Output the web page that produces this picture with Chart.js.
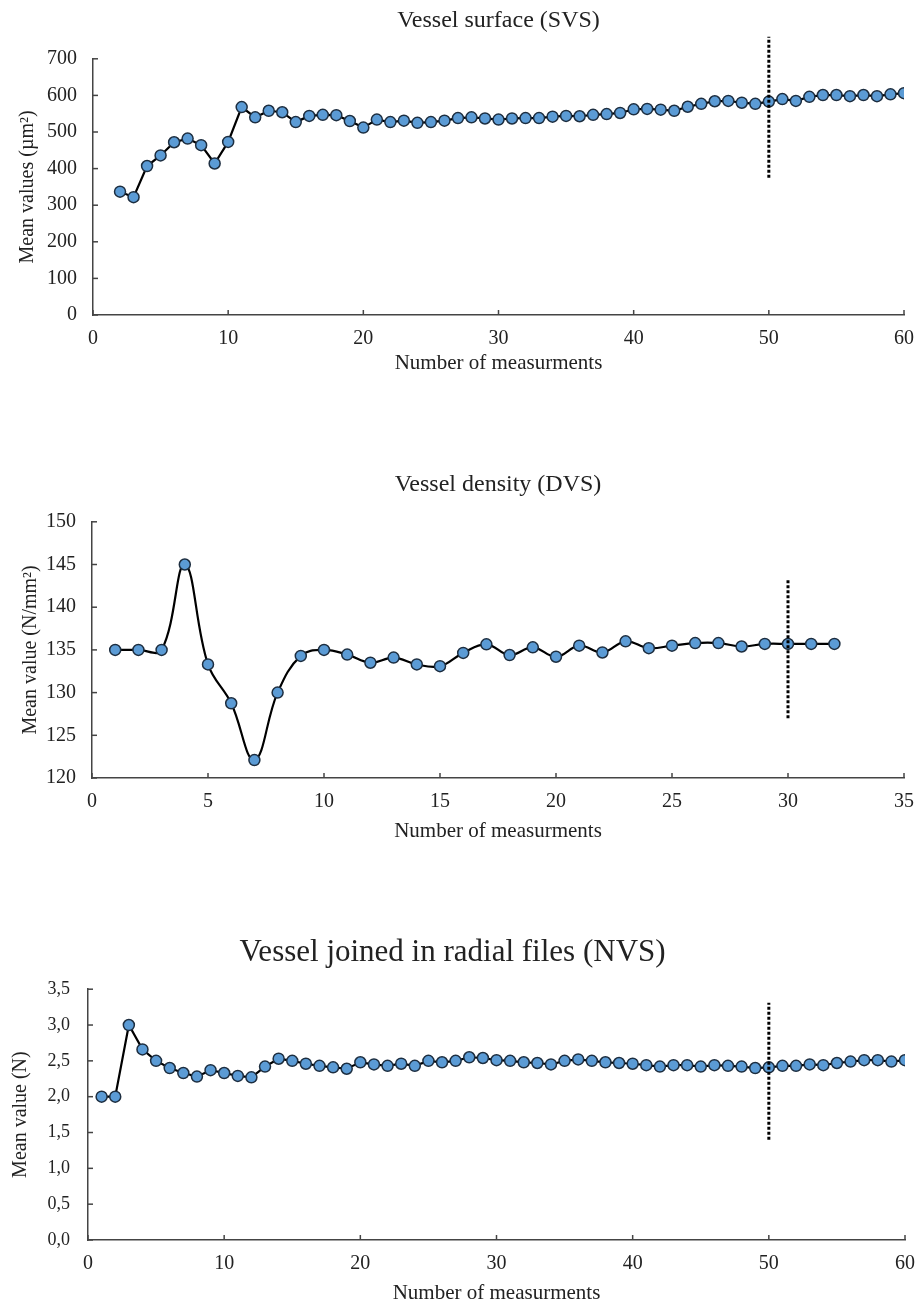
<!DOCTYPE html>
<html>
<head>
<meta charset="utf-8">
<script src="https://cdn.jsdelivr.net/npm/chart.js@4"></script>
<style>
  html, body { margin: 0; padding: 0; background: #fff; }
  body { width: 917px; height: 1308px; position: relative; overflow: hidden; }
  .box { position: absolute; left: 0; width: 917px; }
  .box canvas { display: block; }
</style>
</head>
<body>
<div class="box" id="b1" style="top:0px;height:380px"><canvas id="svs"></canvas></div>
<div class="box" id="b2" style="top:455px;height:395px"><canvas id="dvs"></canvas></div>
<div class="box" id="b3" style="top:915px;height:393px"><canvas id="nvs"></canvas></div>
<script>
// Vessel surface (SVS) — measurements 2..60
const svsStart = 2
const svsValues = [337,322,407,436,472,482,464,414,473,568,540,558,554,527,544,547,546,530,512,534,
  527,531,525,527,531,538,540,537,534,537,538,538,542,544,543,547,549,552,562,563,
  561,558,569,577,584,585,580,577,583,590,585,596,601,601,598,601,598,603,606]

// Vessel density (DVS) — measurements 1..32
const dvsStart = 1
const dvsValues = [135.0,135.0,135.0,145.0,133.3,128.75,122.1,130.0,134.3,135.0,134.45,133.5,134.1,133.3,133.1,134.65,
  135.65,134.4,135.3,134.2,135.5,134.7,136.0,135.2,135.5,135.8,135.8,135.4,135.7,135.7,135.7,135.7]

// Vessel joined in radial files (NVS) — measurements 1..60
const nvsStart = 1
const nvsValues = [2.0,2.0,3.0,2.66,2.50,2.40,2.33,2.28,2.37,2.33,2.29,2.27,2.42,2.53,2.50,2.46,2.43,2.41,2.39,2.48,
  2.45,2.43,2.46,2.43,2.50,2.48,2.50,2.55,2.54,2.51,2.50,2.48,2.47,2.45,2.50,2.52,2.50,2.48,2.47,2.46,
  2.44,2.42,2.44,2.44,2.42,2.44,2.43,2.42,2.40,2.41,2.43,2.43,2.45,2.44,2.47,2.49,2.51,2.51,2.49,2.51]

const serif = "'Liberation Serif', 'DejaVu Serif', serif"
const textColor = '#222'
const axisColor = '#444'

function toPoints(start, vals){
  return vals.map((v, i) => ({x: start + i, y: v}))
}

// inner tick marks + dotted reference line
const decorPlugin = {
  id: 'decor',
  afterDatasetsDraw(chart, args, opts){
    const c = chart.ctx
    const xs = chart.scales.x, ys = chart.scales.y
    c.save()
    c.strokeStyle = axisColor
    c.lineWidth = 1.5
    const bottom = chart.chartArea.bottom, left = chart.chartArea.left
    xs.ticks.forEach(t => {
      const px = xs.getPixelForValue(t.value)
      c.beginPath(); c.moveTo(px, bottom); c.lineTo(px, bottom - 5); c.stroke()
    })
    ys.ticks.forEach(t => {
      const py = ys.getPixelForValue(t.value)
      c.beginPath(); c.moveTo(left, py); c.lineTo(left + 5, py); c.stroke()
    })
    // dotted vertical marker
    c.strokeStyle = '#000'
    c.lineWidth = 3
    c.setLineDash([3, 2])
    const lx = xs.getPixelForValue(opts.at)
    c.beginPath()
    c.moveTo(lx, ys.getPixelForValue(opts.from))
    c.lineTo(lx, ys.getPixelForValue(opts.to))
    c.stroke()
    c.restore()
  }
}

function makeChart(id, cfg){
  return new Chart(document.getElementById(id), {
    type: 'line',
    data: {
      datasets: [{
        data: cfg.points,
        borderColor: '#000',
        borderWidth: 2.2,
        tension: cfg.tension,
        pointRadius: 5.5,
        pointBorderWidth: 1.5,
        pointBorderColor: '#1d2e40',
        pointBackgroundColor: '#5b9bd5',
        fill: false
      }]
    },
    options: {
      responsive: true,
      maintainAspectRatio: false,
      animation: false,
      events: [],
      layout: { padding: { left: 0, right: cfg.padRight, top: 0, bottom: 0 } },
      plugins: {
        legend: { display: false },
        tooltip: { enabled: false },
        title: {
          display: true,
          text: cfg.title,
          color: textColor,
          fullSize: cfg.titleFull,
          font: { family: serif, size: cfg.titleSize, weight: 'normal' },
          padding: { top: cfg.titleTop, bottom: cfg.titleBottom }
        },
        decor: cfg.marker
      },
      scales: {
        x: {
          type: 'linear',
          min: cfg.xMin, max: cfg.xMax,
          grid: { display: false, drawTicks: false },
          border: { display: true, color: axisColor, width: 1.5 },
          ticks: {
            stepSize: cfg.xStep, color: textColor, padding: 12,
            font: { family: serif, size: 20 }
          },
          title: {
            display: true, text: 'Number of measurments', color: textColor,
            font: { family: serif, size: 21 }, padding: { top: 0, bottom: cfg.xTitleBottom }
          },
          afterFit(scale){
            scale.height = cfg.xHeight
            scale.paddingLeft = 0
            scale.paddingRight = 0
          }
        },
        y: {
          min: cfg.yMin, max: cfg.yMax,
          grid: { display: false, drawTicks: false },
          border: { display: true, color: axisColor, width: 1.5 },
          ticks: {
            stepSize: cfg.yStep, color: textColor, padding: cfg.yTickPad,
            font: { family: serif, size: cfg.yTickSize },
            callback: cfg.yFormat
          },
          title: {
            display: true, text: cfg.yTitle, color: textColor,
            font: { family: serif, size: 20 }, padding: { top: cfg.yTitlePad, bottom: 0 }
          },
          afterFit(scale){ scale.width = cfg.yWidth }
        }
      }
    },
    plugins: [decorPlugin]
  })
}

makeChart('svs', {
  points: toPoints(svsStart, svsValues), tension: 0,
  title: 'Vessel surface (SVS)', titleSize: 24, titleTop: 6, titleBottom: 24, titleFull: false,
  xMin: 0, xMax: 60, xStep: 10, xHeight: 65, xTitleBottom: 4,
  yMin: 0, yMax: 700, yStep: 100, yTickSize: 20, yTickPad: 16,
  yTitle: 'Mean values (µm²)', yTitlePad: 16, yWidth: 93, padRight: 13,
  yFormat: v => v,
  marker: { at: 50, from: 375, to: 760 }
})

makeChart('dvs', {
  points: toPoints(dvsStart, dvsValues), tension: 0.4,
  title: 'Vessel density (DVS)', titleSize: 24, titleTop: 15, titleBottom: 23, titleFull: false,
  xMin: 0, xMax: 35, xStep: 5, xHeight: 72, xTitleBottom: 6,
  yMin: 120, yMax: 150, yStep: 5, yTickSize: 20, yTickPad: 16,
  yTitle: 'Mean value (N/mm²)', yTitlePad: 19, yWidth: 92, padRight: 13,
  yFormat: v => v,
  marker: { at: 30, from: 127, to: 143.3 }
})

makeChart('nvs', {
  points: toPoints(nvsStart, nvsValues), tension: 0,
  title: 'Vessel joined in radial files (NVS)', titleSize: 31, titleTop: 19, titleBottom: 18, titleFull: true,
  xMin: 0, xMax: 60, xStep: 10, xHeight: 68, xTitleBottom: 2,
  yMin: 0, yMax: 3.5, yStep: 0.5, yTickSize: 18, yTickPad: 18,
  yTitle: 'Mean value (N)', yTitlePad: 9, yWidth: 88, padRight: 12,
  yFormat: v => v.toFixed(1).replace('.', ','),
  marker: { at: 50, from: 1.4, to: 3.31 }
})
</script>
</body>
</html>
